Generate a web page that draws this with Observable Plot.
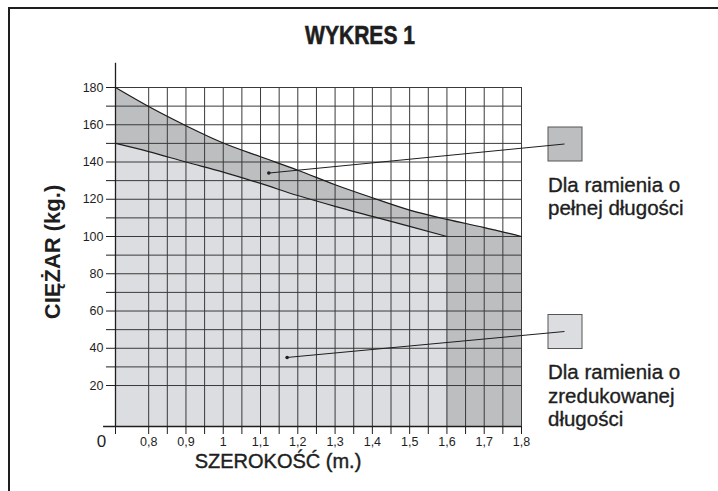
<!DOCTYPE html>
<html>
<head>
<meta charset="utf-8">
<script src="https://cdn.jsdelivr.net/npm/d3@7"></script>
<script src="https://cdn.jsdelivr.net/npm/@observablehq/plot@0.6"></script>
<style>
  html, body { margin: 0; padding: 0; background: #fff; }
  #chart svg { display: block; font-family: "Liberation Sans", Arial, Helvetica, sans-serif; }
</style>
</head>
<body>
<div id="chart"></div>
<script>
// ---- data ----
const fullWidths   = [0.711, 0.8, 0.9, 1.0, 1.1, 1.2, 1.3, 1.4, 1.5, 1.6, 1.7, 1.8];
const fullWeights  = [180, 169.8, 159.5, 150.2, 142.8, 135.6, 127.8, 120.8, 114.2, 109.2, 104.8, 100];
const shortWidths  = [0.711, 0.8, 0.9, 1.0, 1.1, 1.2, 1.3, 1.4, 1.5, 1.6];
const shortWeights = [150, 145.6, 140, 134.6, 128.5, 122, 116.2, 110.8, 105.4, 100];

const xTickValues = [0.8, 0.9, 1.0, 1.1, 1.2, 1.3, 1.4, 1.5, 1.6, 1.7, 1.8];
const xTickLabels = ["0,8", "0,9", "1", "1,1", "1,2", "1,3", "1,4", "1,5", "1,6", "1,7", "1,8"];
const xMinorTicks = [0.85, 0.95, 1.05, 1.15, 1.25, 1.35, 1.45, 1.55, 1.65, 1.75];
const yTickValues = [20, 40, 60, 80, 100, 120, 140, 160, 180];
const yMinorTicks = [30, 50, 70, 90, 110, 130, 150, 170];

const xOrigin = 0.711;   // left edge of the broken axis (labelled "0")
const yOrigin = -2;      // bottom edge of the broken axis
const yAxisTop = 193;

const seriesNames = ["Dla ramienia o|pełnej długości", "Dla ramienia o|zredukowanej|długości"];
const leaderWidths  = [1.1236, 1.1727];
const leaderWeights = [133.8, 34.8];

const title = "WYKRES 1";
const xLabel = "SZEROKOŚĆ (m.)";
const yLabel = "CIĘŻAR (kg.)";

// ---- styles ----
const darkFill = "#bdbec0";
const lightFill = "#dcdde0";
const ink = "#1e1e1e";
const gridColor = "#3a3a3a";

const full = fullWidths.map((w, i) => ({w, v: fullWeights[i]}));
const short = shortWidths.map((w, i) => ({w, v: shortWeights[i]}));
const labelOf = d => xTickLabels[xTickValues.findIndex(v => Math.abs(v - d) < 1e-9)];

const plot = Plot.plot({
  width: 718,
  height: 491,
  marginLeft: 115,
  marginRight: 197,
  marginTop: 87,
  marginBottom: 65,
  style: {fontFamily: "Liberation Sans, Arial, sans-serif", color: ink, background: "#fff", fontSize: "12.5px"},
  x: {domain: [xOrigin, 1.8]},
  y: {domain: [yOrigin, 180]},
  marks: [
    Plot.areaY(full, {x: "w", y1: yOrigin, y2: "v", fill: darkFill, curve: "monotone-x"}),
    Plot.areaY(short, {x: "w", y1: yOrigin, y2: "v", fill: lightFill, curve: "monotone-x"}),
    Plot.ruleY([...yTickValues, ...yMinorTicks], {x1: xOrigin, x2: 1.8, stroke: gridColor, strokeWidth: 1}),
    Plot.ruleX([...xTickValues, ...xMinorTicks], {y1: yOrigin, y2: 180, stroke: gridColor, strokeWidth: 1}),
    Plot.line(full, {x: "w", y: "v", stroke: ink, strokeWidth: 1.2, curve: "monotone-x"}),
    Plot.line(short, {x: "w", y: "v", stroke: ink, strokeWidth: 1.2, curve: "monotone-x"}),
    Plot.ruleX([xOrigin], {y1: yOrigin, y2: yAxisTop, stroke: ink, strokeWidth: 1.3}),
    Plot.ruleY([yOrigin], {x1: 0.679, x2: 1.8, stroke: ink, strokeWidth: 1.3}),
    Plot.axisX({ticks: xTickValues, tickFormat: labelOf, tickSize: 8, tickPadding: 3, fontSize: 12.5, label: null, stroke: ink}),
    Plot.axisX({ticks: [xOrigin, ...xMinorTicks], tickFormat: () => "", tickSize: 8, label: null, stroke: ink}),
    Plot.axisY({ticks: yTickValues, tickSize: 9, tickPadding: 3, fontSize: 12.5, label: null, stroke: ink}),
    Plot.axisY({ticks: yMinorTicks, tickFormat: () => "", tickSize: 9, label: null, stroke: ink}),
    Plot.text(["0"], {x: xOrigin, y: yOrigin, dx: -14, dy: 15, fontSize: 17, fill: ink, textAnchor: "middle"})
  ]
});

const svg = d3.select(plot);
const sx = plot.scale("x"), sy = plot.scale("y");

// page frame
svg.append("path").attr("d", "M9,491V8H720").attr("fill", "none").attr("stroke", ink).attr("stroke-width", 2);

// title
svg.append("text").attr("x", 360).attr("y", 44).attr("text-anchor", "middle")
  .attr("font-size", 26).attr("font-weight", "bold").attr("fill", ink)
  .attr("stroke", ink).attr("stroke-width", 0.6)
  .attr("textLength", 110).attr("lengthAdjust", "spacingAndGlyphs").text(title);

// axis titles
svg.append("text").attr("x", 278).attr("y", 468).attr("text-anchor", "middle")
  .attr("font-size", 20).attr("fill", ink).attr("stroke", ink).attr("stroke-width", 0.4).text(xLabel);
svg.append("text").attr("transform", "translate(60,252) rotate(-90)").attr("text-anchor", "middle")
  .attr("font-size", 22).attr("font-weight", "bold").attr("fill", ink).text(yLabel);

// legend boxes, leader lines and texts
const boxes = [{y: 127, fill: darkFill, textY: 191.7}, {y: 314.5, fill: lightFill, textY: 379.3}];
boxes.forEach((b, i) => {
  svg.append("rect").attr("x", 548).attr("y", b.y).attr("width", 34).attr("height", 34)
    .attr("fill", b.fill).attr("stroke", "#555").attr("stroke-width", 1);
  const px = sx.apply(leaderWidths[i]), py = sy.apply(leaderWeights[i]);
  svg.append("line").attr("x1", px).attr("y1", py).attr("x2", 564.5).attr("y2", b.y + 17)
    .attr("stroke", ink).attr("stroke-width", 1);
  svg.append("circle").attr("cx", px).attr("cy", py).attr("r", 1.8).attr("fill", ink);
  const t = svg.append("text").attr("x", 548).attr("y", b.textY).attr("font-size", 20.5)
    .attr("text-anchor", "start")
    .attr("fill", ink).attr("stroke", ink).attr("stroke-width", 0.35);
  seriesNames[i].split("|").forEach((line, j) => {
    t.append("tspan").attr("x", 548).attr("y", b.textY + j * 23.4).text(line);
  });
});

document.getElementById("chart").appendChild(plot);
</script>
</body>
</html>
